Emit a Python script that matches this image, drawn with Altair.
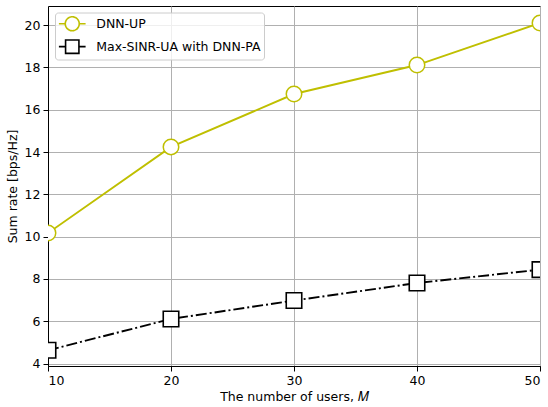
import altair as alt
import pandas as pd

users = [10, 20, 30, 40, 50]
series_names = ["DNN-UP", "Max-SINR-UA with DNN-PA"]
dnn_up = [10.17, 14.24, 16.74, 18.11, 20.1]
max_sinr = [4.63, 6.11, 6.98, 7.81, 8.44]
colors = ["#bfbf00", "#000000"]
x_ticks = [10, 20, 30, 40, 50]
y_ticks = [4, 6, 8, 10, 12, 14, 16, 18, 20]

rows = []
for m, v in zip(users, dnn_up):
    rows.append({"series": series_names[0], "M": m, "rate": v})
for m, v in zip(users, max_sinr):
    rows.append({"series": series_names[1], "M": m, "rate": v})
df = pd.DataFrame(rows)

circle_path = "M-1.78,0L-0.93,0M0.93,0L1.78,0M0.93,0A0.93,0.93,0,1,1,-0.93,0A0.93,0.93,0,1,1,0.93,0Z"
square_path = "M-1.78,0L-0.89,0M0.89,0L1.78,0M-0.89,-0.89L0.89,-0.89L0.89,0.89L-0.89,0.89Z"
sym_expr = "datum.value === 'DNN-UP' ? '" + circle_path + "' : '" + square_path + "'"

x_enc = alt.X("M:Q", scale=alt.Scale(domain=[10, 50], nice=False, zero=False),
              axis=alt.Axis(values=x_ticks, title="The number of users, 𝑀", format="d"))
y_enc = alt.Y("rate:Q", scale=alt.Scale(domain=[3.887, 20.9], nice=False, zero=False),
              axis=alt.Axis(values=y_ticks, title="Sum rate [bps/Hz]", format="d"))

color_scale = alt.Scale(domain=series_names, range=colors)
legend = alt.Legend(
    title=None, orient="none", legendX=7, legendY=6.5,
    labelFontSize=12.5, labelColor="black", labelFont="DejaVu Sans", labelLimit=400,
    symbolSize=225, symbolStrokeWidth=1.6, labelOffset=15.5, symbolOffset=6,
    symbolType=alt.ExprRef(expr=sym_expr), symbolFillColor="white", symbolOpacity=1,
    symbolDash=[1, 0],
    padding=2.75, rowPadding=1.9,
    fillColor="rgba(255,255,255,0.8)", strokeColor="#cccccc", cornerRadius=3,
)
stroke_enc = alt.Stroke("series:N", scale=color_scale, legend=legend)

base = alt.Chart(df).encode(x=x_enc, y=y_enc, stroke=stroke_enc)

line1 = base.transform_filter(alt.datum.series == series_names[0]).mark_line(
    strokeWidth=1.9, clip=True)
line2 = base.transform_filter(alt.datum.series == series_names[1]).mark_line(
    strokeWidth=1.9, clip=True, strokeDash=[11, 3, 2, 3])

circles = base.transform_filter(alt.datum.series == series_names[0]).mark_point(
    shape="circle", filled=True, fill="white", fillOpacity=1, opacity=1,
    strokeWidth=1.5, size=240, clip=True)

squares = base.transform_filter(alt.datum.series == series_names[1]).mark_point(
    shape="square", filled=True, fill="white", fillOpacity=1, opacity=1,
    strokeWidth=1.6, size=240, clip=True)

chart = alt.layer(line1, circles, line2, squares).properties(
    width=492, height=360,
    autosize=alt.AutoSizeParams(type="none"),
    padding={"left": 48, "top": 6, "right": 8, "bottom": 41},
).configure(font="DejaVu Sans").configure_view(
    stroke="black", strokeWidth=1
).configure_axis(
    labelFontSize=12.5, titleFontSize=12.5, labelColor="black", titleColor="black",
    titleFontWeight="normal", tickColor="black", domainColor="black", tickSize=5,
    gridColor="#b0b0b0", gridWidth=1, labelFont="DejaVu Sans", titleFont="DejaVu Sans",
    labelPadding=3, domainWidth=1, tickWidth=1,
).configure_axisX(titlePadding=4).configure_axisY(titlePadding=5)

chart.save("out.html", embed_options={"renderer": "svg", "actions": False})
